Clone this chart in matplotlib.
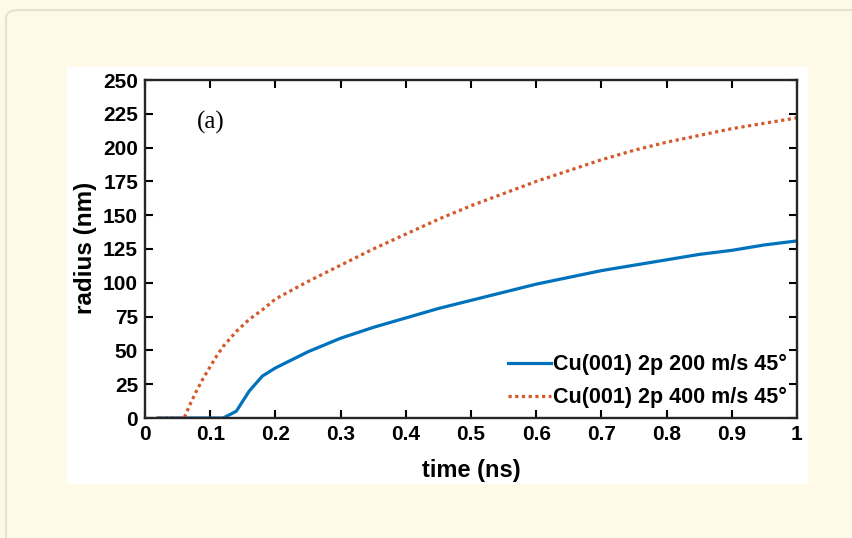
import numpy as np
import matplotlib
matplotlib.use("Agg")
from matplotlib import pyplot as plt
from matplotlib.patches import Rectangle, FancyBboxPatch

# values
t_200 = [0.02, 0.04, 0.06, 0.08, 0.10, 0.12, 0.14, 0.16, 0.18, 0.20, 0.25, 0.30,
         0.35, 0.40, 0.45, 0.50, 0.55, 0.60, 0.65, 0.70, 0.75, 0.80, 0.85, 0.90, 0.95, 1.00]
r_200 = [0, 0, 0, 0, 0, 0, 5, 20, 31, 37, 49, 59,
         67, 74, 81, 87, 93, 99, 104, 109, 113, 117, 121, 124, 128, 131]

t_400 = [0.02, 0.04, 0.06, 0.07, 0.08, 0.09, 0.10, 0.11, 0.12, 0.14, 0.16, 0.18, 0.20,
         0.25, 0.30, 0.35, 0.40, 0.45, 0.50, 0.55, 0.60, 0.65, 0.70, 0.75, 0.80, 0.85,
         0.90, 0.95, 1.00]
r_400 = [0, 0, 0, 11, 21, 30, 38, 46, 53, 64, 73, 80, 88,
         101, 113, 125, 136, 147, 157, 166, 175, 183, 191, 198, 204, 209,
         214, 218, 222]

labels = ["Cu(001) 2p 200 m/s 45°", "Cu(001) 2p 400 m/s 45°"]
x_ticks = [0, 0.1, 0.2, 0.3, 0.4, 0.5, 0.6, 0.7, 0.8, 0.9, 1]
x_tick_labels = ["0", "0.1", "0.2", "0.3", "0.4", "0.5", "0.6", "0.7", "0.8", "0.9", "1"]
y_ticks = list(range(0, 251, 25))

plt.rcParams['font.family'] = ['Liberation Sans', 'DejaVu Sans']

fig = plt.figure(figsize=(8.53, 5.38), dpi=100)
fig.patch.set_facecolor('#fffae8')

# outer card border and white figure area
card = FancyBboxPatch((6 / 853, -0.05), 1.1, 1 - 10 / 538 + 0.05,
                      boxstyle="round,pad=0,rounding_size=0.015",
                      transform=fig.transFigure, facecolor='none',
                      edgecolor='#e6e2d2', linewidth=1.5, zorder=-2)
fig.patches.append(card)
fig.patches.append(Rectangle((67 / 853, 1 - 484 / 538), (808 - 67) / 853, (484 - 67) / 538,
                             transform=fig.transFigure, facecolor='white',
                             edgecolor='none', zorder=-1))

ax = fig.add_axes([145 / 853, 1 - 418 / 538, (797 - 145) / 853, (418 - 80) / 538])
ax.set_facecolor('white')

ax.plot(t_200, r_200, color='#0072BD', linewidth=2.3, label=labels[0])
ax.plot(t_400, r_400, color='#D4582A', linewidth=2.3, linestyle=(0, (1, 1.1)), label=labels[1])

ax.set_xlim(0, 1)
ax.set_ylim(0, 250)
ax.set_xticks(x_ticks)
ax.set_xticklabels(x_tick_labels)
ax.set_yticks(y_ticks)
ax.tick_params(direction='in', length=6, width=1.5, labelsize=15, top=True, right=True, pad=5)
for lab in ax.get_xticklabels() + ax.get_yticklabels():
    lab.set_fontweight('bold')
for sp in ax.spines.values():
    sp.set_linewidth(1.7)
    sp.set_color('#262626')

ax.set_xlabel("time (ns)", fontsize=17, fontweight='bold')
ax.xaxis.set_label_coords(0.5, -0.122)
ax.set_ylabel("radius (nm)", fontsize=17.5, fontweight='bold')
ax.yaxis.set_label_coords(-0.074, 0.503)

ax.text(0.101, 0.873, "(a)", transform=ax.transAxes, fontsize=18,
        family=['Liberation Serif'], ha='center', va='center')

leg = ax.legend(loc='lower right', frameon=False, handlelength=2.0,
                handletextpad=0.1, borderaxespad=0.05, labelspacing=0.55,
                prop={'weight': 'bold', 'size': 15.5})

fig.savefig("out.png", dpi=100, facecolor=fig.get_facecolor())
